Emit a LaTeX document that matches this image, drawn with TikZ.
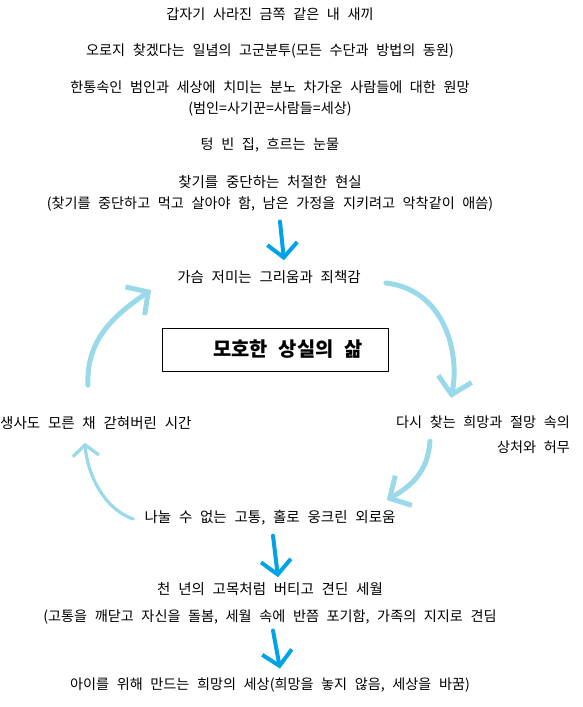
\documentclass[tikz,border=0pt]{standalone}
\usepackage{fontspec}
\setmainfont{Noto Sans CJK KR}[WordSpace=2.4]
\usetikzlibrary{arrows.meta}
\definecolor{paintblue}{RGB}{0,162,232}
\definecolor{paintsky}{RGB}{153,217,234}
\tikzset{
  txt/.style={inner sep=0pt,font=\fontsize{14.15}{16}\selectfont},
  txtb/.style={inner sep=0pt,font=\fontsize{14.5}{17}\selectfont},
  titlebox/.style={draw,line width=0.9pt,minimum width=226pt,minimum height=43pt,inner sep=0pt,font=\fontsize{19.8}{22}\selectfont\bfseries},
  darrow/.style={paintblue,line width=4pt,line cap=round,-{Straight Barb[length=14pt,width=30pt]}},
  larrow/.style={paintsky,line width=5pt,line cap=round,-{Straight Barb[length=16pt,width=34pt]}},
  larrowthin/.style={paintsky,line width=3.2pt,line cap=round,-{Straight Barb[length=11pt,width=26pt]}}
}
\begin{document}
\begin{tikzpicture}[x=1pt,y=-1pt,line join=round]
\useasboundingbox (0,0) rectangle (582,707);
\node[txt] (t1) at (270,14) {갑자기 사라진 금쪽 같은 내 새끼};
\node[txt] (t2) at (270,51) {오로지 찾겠다는 일념의 고군분투(모든 수단과 방법의 동원)};
\node[txt] (t3) at (270,87) {한통속인 범인과 세상에 치미는 분노 차가운 사람들에 대한 원망};
\node[txt] (t4) at (270,109) {(범인=사기꾼=사람들=세상)};
\node[txt] (t5) at (270,145) {텅 빈 집, 흐르는 눈물};
\node[txtb] (t6) at (270,182) {찾기를 중단하는 처절한 현실};
\node[txt] (t7) at (270,204) {(찾기를 중단하고 먹고 살아야 함, 남은 가정을 지키려고 악착같이 애씀)};
\node[txtb] (gasum) at (269,277) {가슴 저미는 그리움과 죄책감};
\node[titlebox] (box) at (275,349.5) {\hspace*{26pt}모호한 상실의 삶};
\node[txtb,anchor=west] (saengsa) at (0,423) {생사도 모른 채 갇혀버린 시간};
\node[txt,align=right,anchor=north east] (dasi) at (570,416) {다시 찾는 희망과 절망 속의\\[9pt]상처와 허무};
\node[txtb] (nanul) at (270,518) {나눌 수 없는 고통, 홀로 웅크린 외로움};
\node[txtb] (cheon) at (270,589) {천 년의 고목처럼 버티고 견딘 세월};
\node[txt] (gotong) at (270,617) {(고통을 깨닫고 자신을 돌봄, 세월 속에 반쯤 포기함, 가족의 지지로 견딤};
\node[txt] (ai) at (270,685) {아이를 위해 만드는 희망의 세상(희망을 놓지 않음, 세상을 바꿈)};

\draw[darrow] ([xshift=10pt,yshift=-10pt]t7.south) -- ([xshift=15pt,yshift=10pt]gasum.north);
\draw[darrow] ([xshift=3pt,yshift=-10pt]nanul.south) -- ([xshift=8pt,yshift=5pt]cheon.north);
\draw[darrow] ([xshift=3pt,yshift=-6pt]gotong.south) -- ([xshift=10pt,yshift=9pt]ai.north);

\draw[larrow] ([xshift=88pt,yshift=31pt]saengsa.north west) .. controls +(-2,-45) and +(-38,26) .. ([xshift=-26pt,yshift=-13pt]gasum.west);
\draw[larrow] ([xshift=25pt,yshift=-6pt]gasum.east) .. controls +(60,7) and +(9,-43) .. ([xshift=55pt,yshift=18pt]dasi.north west);
\draw[larrow] ([xshift=34pt,yshift=13pt]dasi.south west) .. controls +(-2,30) and +(25,-14) .. ([xshift=-9pt,yshift=18pt]nanul.east);
\draw[larrowthin] ([xshift=-11pt,yshift=-1pt]nanul.west) .. controls +(-30,-10) and +(2,30) .. ([xshift=85pt,yshift=-13pt]saengsa.south west);
\end{tikzpicture}
\end{document}
